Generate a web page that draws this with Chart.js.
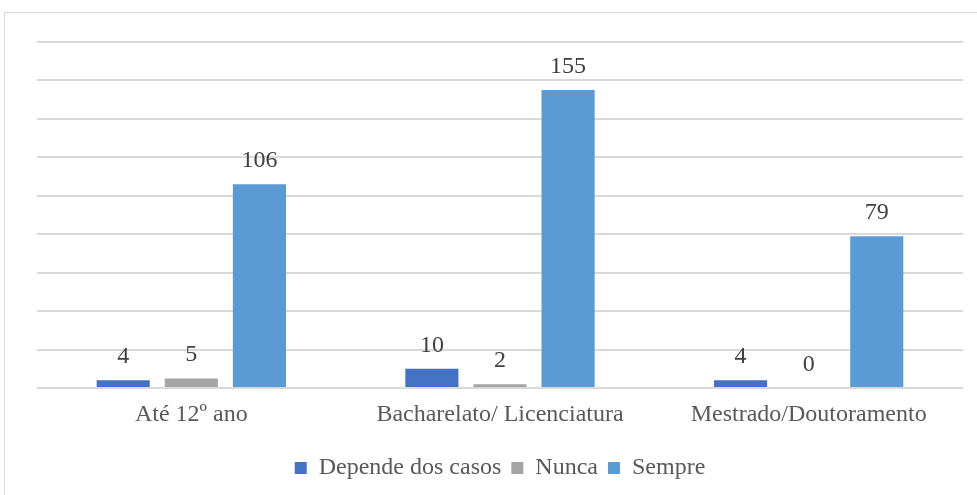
<!DOCTYPE html>
<html>
<head>
<meta charset="utf-8">
<script src="https://cdn.jsdelivr.net/npm/chart.js@4"></script>
<style>
    html, body { margin: 0; padding: 0; background: #fff; overflow: hidden; }
    #frame { position: absolute; left: 4px; top: 12px; width: 990px; height: 500px; border: 1px solid #d9d9d9; }
    #wrap { position: absolute; left: 0; top: 0; width: 977px; height: 495px; }
</style>
</head>
<body>
<div id="frame"></div>
<div id="wrap"><canvas id="chart"></canvas></div>
<script>
// categorias e séries
var categorias = ['Até 12º ano', 'Bacharelato/ Licenciatura', 'Mestrado/Doutoramento'];
var dependeCasos = [4, 10, 4];
var nunca = [5, 2, 0];
var sempre = [106, 155, 79];

var fonte = 'Liberation Serif';

// rótulos de dados por cima das barras
var rotulosPlugin = {
    id: 'rotulos',
    afterDatasetsDraw: function(chart) {
        var ctx = chart.ctx;
        ctx.save();
        ctx.font = '24px "' + fonte + '"';
        ctx.fillStyle = '#404040';
        ctx.textAlign = 'center';
        ctx.textBaseline = 'alphabetic';
        chart.data.datasets.forEach(function(ds, i) {
            chart.getDatasetMeta(i).data.forEach(function(bar, j) {
                ctx.fillText(ds.data[j], bar.x, bar.y - 17);
            });
        });
        ctx.restore();
    }
};

new Chart(document.getElementById('chart'), {
    type: 'bar',
    data: {
        labels: categorias,
        datasets: [
            { label: 'Depende dos casos', data: dependeCasos, backgroundColor: '#4472C4' },
            { label: 'Nunca', data: nunca, backgroundColor: '#A5A5A5' },
            { label: 'Sempre', data: sempre, backgroundColor: '#5B9BD5' }
        ]
    },
    options: {
        responsive: true,
        maintainAspectRatio: false,
        animation: false,
        categoryPercentage: 0.662,
        barPercentage: 0.78,
        layout: { padding: { left: 37, right: 14, top: 42, bottom: 5 } },
        plugins: {
            legend: {
                position: 'bottom',
                labels: {
                    boxWidth: 12,
                    boxHeight: 12,
                    padding: 10,
                    color: '#595959',
                    font: { family: fonte, size: 24 }
                }
            },
            tooltip: { enabled: false }
        },
        scales: {
            x: {
                grid: { display: false },
                border: { display: false },
                ticks: { color: '#595959', padding: 4, font: { family: fonte, size: 24 } },
                afterFit: function(scale) { scale.height = 58; }
            },
            y: {
                min: 0,
                max: 180,
                ticks: { display: false, stepSize: 20 },
                border: { display: false },
                grid: { color: '#d9d9d9', lineWidth: 2, drawTicks: false }
            }
        }
    },
    plugins: [rotulosPlugin]
});
</script>
</body>
</html>
